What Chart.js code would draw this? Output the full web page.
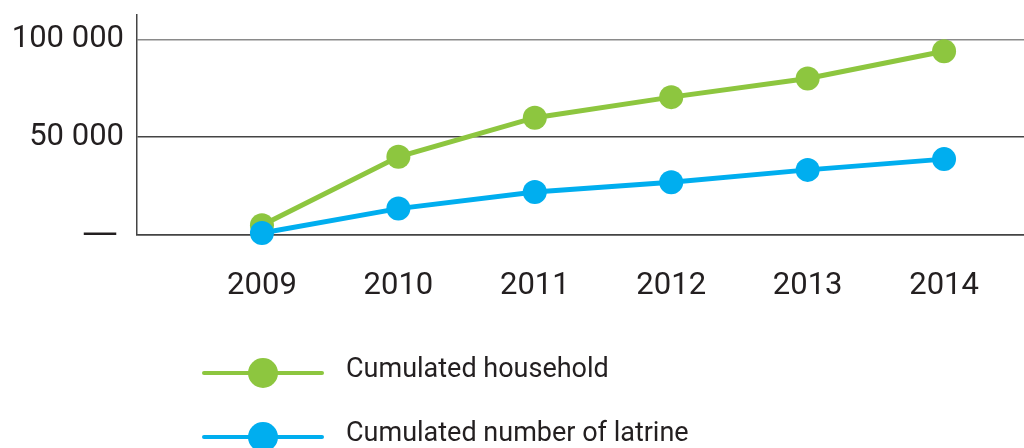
<!DOCTYPE html>
<html lang="en">
<head>
  <meta charset="UTF-8" />
  <title>Cumulated households and latrines</title>
  <script src="https://cdn.jsdelivr.net/npm/chart.js"></script>
  <style>
    body {
      margin: 0;
      background: #ffffff;
    }
    #wrap {
      width: 1024px;
      height: 448px;
    }
  </style>
</head>
<body>
<div id="wrap">
  <canvas id="chart" width="1024" height="448"></canvas>
</div>

<script>
  const years = [2009, 2010, 2011, 2012, 2013, 2014];
  const households = [5000, 40000, 60000, 70500, 80000, 94000];
  const latrines = [1000, 13500, 22000, 27000, 33300, 38800];
  const yTickValues = [0, 50000, 100000];
  const yTickLabels = ['—\u2006', '50 000', '100 000'];
  const seriesNames = ['Cumulated household', 'Cumulated number of latrine'];

  const GREEN = '#8dc63f';
  const BLUE = '#00aeef';
  const TEXT = '#231f20';

  // legend drawn as line + dot, like the original
  const lineLegend = {
    id: 'lineLegend',
    afterDraw(chart, args, opts) {
      const c = chart.ctx;
      c.save();
      chart.data.datasets.forEach((ds, i) => {
        const y = opts.top + i * opts.gap;
        c.strokeStyle = ds.borderColor;
        c.lineWidth = 4;
        c.lineCap = 'round';
        c.beginPath();
        c.moveTo(opts.left, y);
        c.lineTo(opts.left + opts.lineLen, y);
        c.stroke();
        c.fillStyle = ds.borderColor;
        c.beginPath();
        c.arc(opts.left + opts.lineLen / 2, y, 15, 0, Math.PI * 2);
        c.fill();
        c.fillStyle = TEXT;
        c.font = '27px Roboto';
        c.textBaseline = 'alphabetic';
        c.fillText(ds.label, opts.textX, y + 4);
      });
      c.restore();
    }
  };

  const points = vals => vals.map((v, i) => ({ x: years[i], y: v }));

  // chart.js reserves room for overhanging tick labels, the original doesn't
  const noPad = s => { s.paddingTop = 0; s.paddingBottom = 0; s.paddingLeft = 0; s.paddingRight = 0; };

  new Chart(document.getElementById('chart'), {
    type: 'line',
    data: {
      datasets: [
        {
          label: seriesNames[0], data: points(households),
          borderColor: GREEN, backgroundColor: GREEN, pointBackgroundColor: GREEN,
          borderWidth: 5, pointRadius: 12, pointBorderWidth: 0, order: 1, clip: false
        },
        {
          label: seriesNames[1], data: points(latrines),
          borderColor: BLUE, backgroundColor: BLUE, pointBackgroundColor: BLUE,
          borderWidth: 5, pointRadius: 12, pointBorderWidth: 0, order: 0, clip: false
        }
      ]
    },
    plugins: [lineLegend],
    options: {
      responsive: false,
      animation: false,
      devicePixelRatio: 1,
      layout: { autoPadding: false, padding: { top: 15, right: 0, bottom: 153, left: 0 } },
      plugins: {
        legend: { display: false },
        tooltip: { enabled: false },
        lineLegend: { left: 204, lineLen: 118, top: 373, gap: 64, textX: 346 }
      },
      scales: {
        x: {
          type: 'linear',
          min: 2008.084,
          max: 2014.586,
          afterBuildTicks: s => { s.ticks = years.map(v => ({ value: v })); },
          afterFit: s => { s.height = 60; noPad(s); },
          grid: { display: false, drawTicks: false },
          border: { display: true, color: '#444', width: 1.5 },
          ticks: {
            padding: 33,
            color: TEXT,
            font: { family: 'Roboto', size: 31 },
            callback: v => String(v)
          }
        },
        y: {
          min: 0,
          max: 112500,
          afterBuildTicks: s => { s.ticks = yTickValues.map(v => ({ value: v })); },
          afterFit: s => { s.width = 137; noPad(s); },
          grid: {
            drawTicks: false,
            lineWidth: 1.5,
            color: ctx => ctx.tick && ctx.tick.value === 100000 ? '#8a8a8a' : '#444'
          },
          border: { display: true, color: '#444', width: 1.5 },
          ticks: {
            padding: 13,
            color: TEXT,
            font: ctx => ctx.tick && ctx.tick.value === 0
              ? { family: 'DejaVu Sans', size: 36 }
              : { family: 'Roboto', size: 31 },
            callback: v => yTickLabels[yTickValues.indexOf(v)]
          }
        }
      }
    }
  });
</script>
</body>
</html>
